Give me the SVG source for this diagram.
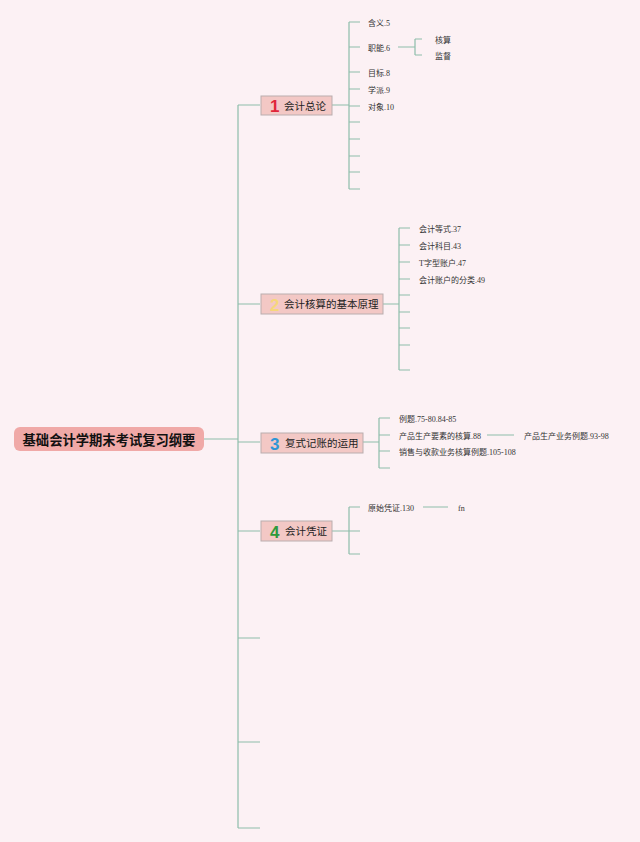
<svg xmlns="http://www.w3.org/2000/svg" width="640" height="842" viewBox="0 0 640 842">
<style>
.ln{stroke:#8dbdaa;stroke-width:1.2;fill:none}
.lf{font-family:"Liberation Serif","Noto Sans CJK SC",serif;font-size:8px;fill:#333}
.tb{fill:#f3c8c5;stroke:#b9aeae;stroke-width:1}
.tt{font-family:"Noto Sans CJK SC",sans-serif;font-size:10.5px;fill:#222}
.num{font-family:"Liberation Sans","Noto Sans CJK SC",sans-serif;font-size:17px;font-weight:bold}
</style>
<rect width="640" height="842" fill="#fcf1f4"/>
<g id="connectors">
<path class="ln" d="M204 439H238M238 105V828M238 105H260M238 304H260M238 442H260M238 531H260M238 638H260M238 742H260M238 828H260"/>
<path class="ln" d="M332 105H349M349 22V189M349 22H360M349 47H360M349 72H360M349 89H360M349 106H360M349 122H360M349 139H360M349 156H360M349 172H360M349 189H360"/>
<path class="ln" d="M398 47H415M415 39V55M415 39H422M415 55H422"/>
<path class="ln" d="M383 304H399M399 228V370M399 228H410M399 245H410M399 262H410M399 279H410M399 295H410M399 312H410M399 328H410M399 345H410M399 370H410"/>
<path class="ln" d="M363 442H379M379 418V468M379 418H390M379 435H390M379 451H390M379 468H390M487 435H514"/>
<path class="ln" d="M332 531H360M349 507V554M349 507H360M349 554H360M423 507H448"/>
</g>
<g id="root">
<rect x="14" y="427" width="190" height="24" rx="6" fill="#f0a9a7"/>
<text x="109" y="444.5" text-anchor="middle" font-family="Noto Sans CJK SC,sans-serif" font-size="13.3" font-weight="bold" fill="#111">基础会计学期末考试复习纲要</text>
</g>
<g id="topic1">
<rect class="tb" x="261" y="96" width="71" height="19"/>
<text class="num" x="270" y="111.5" fill="#e0263a">1</text>
<text class="tt" x="284" y="109.5">会计总论</text>
</g>
<g id="topic1-children">
<text class="lf" x="368" y="25.5">含义.5</text>
<text class="lf" x="368" y="50.5">职能.6</text>
<text class="lf" x="368" y="75.5">目标.8</text>
<text class="lf" x="368" y="92.5">学派.9</text>
<text class="lf" x="368" y="109.5">对象.10</text>
<text class="lf" x="435" y="42.5">核算</text>
<text class="lf" x="435" y="58.5">监督</text>
</g>
<g id="topic2">
<rect class="tb" x="261" y="294" width="122" height="20"/>
<text class="num" x="270" y="310.5" fill="#f6d77a">2</text>
<text class="tt" x="284" y="308">会计核算的基本原理</text>
</g>
<g id="topic2-children">
<text class="lf" x="419" y="231.5">会计等式.37</text>
<text class="lf" x="419" y="248.5">会计科目.43</text>
<text class="lf" x="419" y="265.5">T字型账户.47</text>
<text class="lf" x="419" y="282.5">会计账户的分类.49</text>
</g>
<g id="topic3">
<rect class="tb" x="261" y="433" width="102" height="20"/>
<text class="num" x="270" y="449.5" fill="#2f96d6">3</text>
<text class="tt" x="285" y="447">复式记账的运用</text>
</g>
<g id="topic3-children">
<text class="lf" x="399" y="421.5">例题.75-80.84-85</text>
<text class="lf" x="399" y="438.5">产品生产要素的核算.88</text>
<text class="lf" x="399" y="454.5">销售与收款业务核算例题.105-108</text>
<text class="lf" x="524" y="438.5">产品生产业务例题.93-98</text>
</g>
<g id="topic4">
<rect class="tb" x="261" y="521" width="71" height="20"/>
<text class="num" x="270" y="537.5" fill="#2f9a3c">4</text>
<text class="tt" x="285" y="535">会计凭证</text>
</g>
<g id="topic4-children">
<text class="lf" x="368" y="510.5">原始凭证.130</text>
<text class="lf" x="458" y="510.5">fn</text>
</g>
</svg>
